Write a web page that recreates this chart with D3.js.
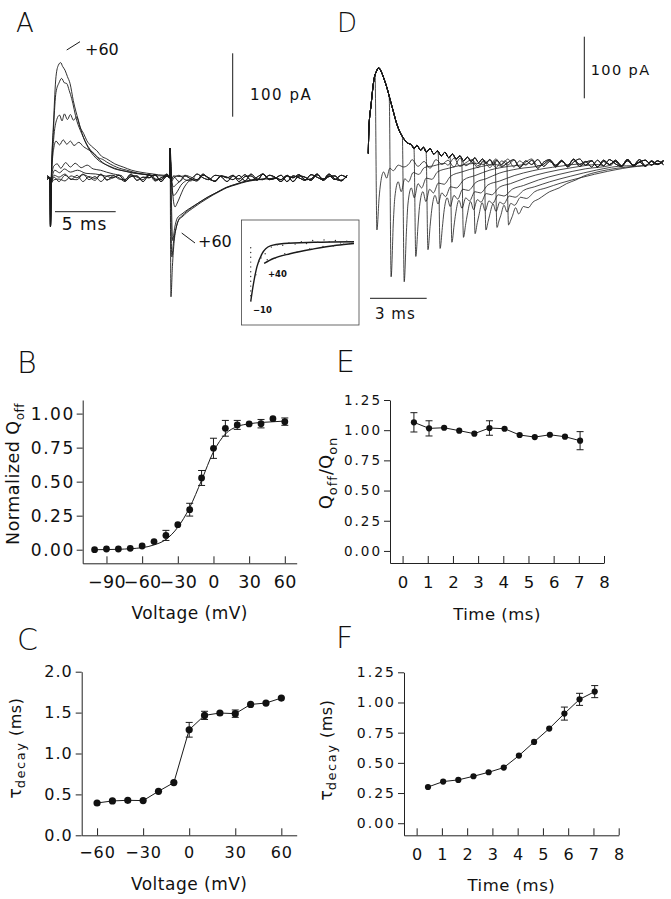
<!DOCTYPE html>
<html>
<head>
<meta charset="utf-8">
<script src="https://cdn.jsdelivr.net/npm/d3@7"></script>
<style>
  body { margin: 0; background: #fff; }
  text { font-family: "DejaVu Sans", sans-serif; fill: #111; }
</style>
</head>
<body>
<div id="fig"></div>
<script>
// ---------- data ----------

// panel B : normalized Q_off vs voltage
const bVolt = [-100,-90,-80,-70,-60,-50,-40,-30,-20,-10,0,10,20,30,40,50,60];
const bQoff = [0.00,0.005,0.005,0.01,0.027,0.06,0.105,0.184,0.294,0.527,0.745,0.892,0.917,0.924,0.926,0.963,0.941];
const bErr  = [0,0,0,0,0,0,0.037,0,0.047,0.055,0.074,0.058,0.033,0,0.031,0,0.027];
// fitted curve
const bFitVolt = [-100,-80,-60,-50,-40,-30,-20,-10,0,10,20,30,40,50,60];
const bFitQ    = [0.0,0.003,0.015,0.035,0.075,0.165,0.31,0.51,0.72,0.85,0.905,0.925,0.935,0.94,0.945];

// panel C : tau decay vs voltage
const cVolt = [-60,-50,-40,-30,-20,-10,0,10,20,30,40,50,60];
const cTau  = [0.395,0.42,0.428,0.424,0.538,0.644,1.29,1.466,1.495,1.487,1.60,1.617,1.678];
const cErr  = [0,0,0,0,0,0,0.09,0.05,0,0.045,0,0,0];

// panel E : Q_off/Q_on vs time
const eTime  = [0.45,1.05,1.65,2.25,2.85,3.45,4.05,4.65,5.25,5.85,6.45,7.05];
const eRatio = [1.065,1.015,1.02,0.996,0.971,1.018,1.012,0.96,0.943,0.962,0.946,0.913];
const eErr   = [0.08,0.063,0,0,0,0.06,0,0,0,0,0,0.075];

// panel F : tau decay vs time
const fTime = [0.45,1.05,1.65,2.25,2.85,3.45,4.05,4.65,5.25,5.85,6.45,7.05];
const fTau  = [0.30,0.345,0.359,0.389,0.422,0.461,0.56,0.673,0.784,0.908,1.026,1.09];
const fErr  = [0,0,0,0,0,0,0,0,0,0.054,0.05,0.05];

// panel A : gating current traces, [ms, pA]
const aOn = [
  [[0,0],[0.04,-77],[0.1,-10],[0.3,90],[0.5,160],[0.7,178],[0.89,182],[1.05,176],[1.25,170],[1.45,160],[1.67,149],[1.94,122],[2.36,91],[2.78,64],[3.33,43],[3.89,30],[4.72,20],[5.4,14],[6.1,11],[6.8,8],[7.5,6],[8.6,3]],
  [[0,0],[0.04,-77],[0.1,-10],[0.3,80],[0.5,135],[0.75,150],[0.97,157],[1.2,150],[1.39,149],[1.6,138],[1.81,125],[2.22,91],[2.64,70],[3.19,49],[3.89,33],[4.4,24],[5.0,18],[5.7,13],[6.39,10],[7.2,7],[8.06,5]],
  [[0,0],[0.04,-77],[0.1,-10],[0.3,60],[0.56,92],[0.8,99],[1.0,90],[1.2,101],[1.45,92],[1.7,100],[1.95,91],[2.22,96],[2.5,80],[2.8,70],[3.06,59],[3.45,50],[3.89,43],[4.3,34],[4.72,30],[5.4,22],[6.1,17],[6.8,12],[7.5,9],[8.6,6],[9.5,4]],
  [[0,0],[0.04,-77],[0.1,-10],[0.3,45],[0.5,58],[0.8,52],[1.1,60],[1.4,53],[1.7,58],[2.0,51],[2.4,56],[2.8,49],[3.33,43],[3.7,38],[4.0,32],[4.4,29],[4.72,25],[5.3,19],[5.8,15],[6.4,12],[6.94,9],[7.7,6],[8.5,4],[9.4,3]],
  [[0,0],[0.04,-77],[0.1,-10],[0.3,18],[0.6,22],[0.9,15],[1.3,24],[1.7,17],[2.1,23],[2.6,16],[3.1,20],[3.6,14],[4.2,12],[4.7,9],[5.3,6],[6.0,3]],
  [[0,0],[0.04,-77],[0.1,-10],[0.4,12],[0.8,8],[1.2,14],[1.7,9],[2.3,12],[3.0,7],[3.8,6],[4.8,2]],
  [[0,0],[0.04,-77],[0.1,-10],[0.35,4]],
  [[0,0],[0.04,-77],[0.1,-10],[0.35,-3]],
  [[0,0],[0.04,-77],[0.1,-10],[0.35,1]]
];
const aOff = [
  [[9.98,0],[10.0,47],[10.08,-188],[10.2,-140],[10.35,-100],[10.55,-76],[10.75,-66],[11.0,-62],[11.4,-55],[11.9,-48],[12.5,-40],[13.0,-34],[13.6,-27],[14.2,-21],[14.7,-16],[15.5,-11],[16.4,-6],[17.4,-3],[18.5,-1]],
  [[9.98,0],[10.0,47],[10.15,-125],[10.3,-100],[10.5,-80],[10.75,-65],[11.0,-60],[11.4,-53],[11.9,-46],[12.5,-38],[13.0,-32],[13.6,-26],[14.2,-20],[14.7,-15],[15.5,-10],[16.4,-5],[17.4,-2]],
  [[9.98,0],[10.0,47],[10.22,-99],[10.4,-78],[10.6,-64],[11.0,-57],[11.5,-50],[12.0,-44],[12.6,-37],[13.2,-30],[13.8,-24],[14.5,-17],[15.2,-12],[16,-7],[17,-3],[18,-1]],
  [[9.98,0],[10.0,47],[10.14,1],[10.25,-30],[10.42,-46],[10.6,-40],[10.83,-30],[11.1,-18],[11.4,-9],[11.94,-2]],
  [[9.98,0],[10.0,47],[10.1,-5],[10.3,-28],[10.6,-22],[10.9,-12],[11.3,-5],[11.8,-1]],
  [[9.98,0],[10.0,47],[10.1,-3],[10.3,-14],[10.6,-9],[11.0,-3]],
  [[9.98,0],[10.0,47],[10.1,-4],[10.3,2]],
  [[9.98,0],[10.0,47],[10.1,-6],[10.3,-1]],
  [[9.98,0],[10.0,47],[10.1,-2],[10.3,3]]
];
// baseline noise of A, pA, one value every 0.5 ms from -0.25 ms
const aNoise = [
  [3,-5,1,6,-3,4,-6,2,-1,5,-4,3,0,-6,4,1,-3,6,-5,0,3,-2,-6,4,1,-3,6,-2,-5,3,0,4,-6,2,3,-4,6,-2,0,-3,4,-6,3,1,-4,5,-2,3,-3,4,0],
  [-3,4,-2,-5,3,0,6,-3,2,-6,3,4,-2,-3,6,-4,1,0,5,-6,3,-2,4,-3,-5,6,0,-3,4,2,-6,3,-2,5,-4,1,6,-3,-1,4,-6,3,0,-4,5,1,-3,6,-2,-4,3],
  [0,3,-6,4,-2,-3,5,1,-4,6,-3,0,4,-5,2,3,-6,4,-2,-3,6,-4,2,3,-2,-5,4,0,-6,3,1,-3,4,-5,6,-2,-3,4,1,-6,3,0,5,-3,-2,6,-4,2,3,-5,4]
];

// panel D : envelope before the pulse ends, [ms, pA]
const dEnv = [[0,16],[0.03,55],[0.15,95],[0.3,135],[0.45,150],[0.55,155],[0.7,148],[0.85,136],[1.0,122],[1.16,104],[1.33,85],[1.51,65],[1.7,50],[1.87,41],[2.1,33],[2.3,30],[2.45,24],[2.6,29],[2.8,21],[2.95,26],[3.1,18],[3.3,24],[3.5,15],[3.7,20],[3.9,12],[4.1,18],[4.3,9],[4.5,15],[4.7,7],[4.9,12],[5.1,4],[5.3,10],[5.5,3],[5.7,9],[5.9,1],[6.1,7],[6.3,0],[6.5,6],[6.7,-2],[6.9,5],[7.1,-3],[7.3,4],[7.5,-2],[7.7,3]];
const dEnd = [0.36,1.12,1.82,2.44,3.09,3.74,4.37,4.99,5.61,6.19,6.78,7.40];
const dOff = [
  [[0.36,145],[0.46,-108],[0.58,-55],[0.66,-32],[0.82,-14],[0.98,-24],[1.15,-8],[1.34,-12],[1.6,-3],[1.9,-6],[2.2,0]],
  [[1.12,106],[1.22,-184],[1.34,-95],[1.42,-55],[1.6,-30],[1.76,-46],[1.95,-25],[2.15,-30],[2.4,-15],[2.7,-18],[3.0,-7],[3.5,-4],[4.1,0]],
  [[1.82,44],[1.92,-192],[2.04,-110],[2.12,-66],[2.3,-40],[2.46,-56],[2.66,-33],[2.85,-40],[3.1,-24],[3.4,-26],[3.7,-14],[4.3,-8],[5.0,-3],[5.8,0]],
  [[2.44,26],[2.54,-151],[2.66,-100],[2.74,-70],[2.92,-46],[3.08,-62],[3.28,-42],[3.48,-48],[3.75,-32],[4.05,-34],[4.4,-21],[5.0,-14],[5.8,-7],[6.8,-2]],
  [[3.09,19],[3.19,-140],[3.31,-100],[3.39,-76],[3.57,-52],[3.73,-66],[3.93,-48],[4.13,-54],[4.4,-38],[4.7,-40],[5.1,-27],[5.7,-20],[6.5,-11],[7.5,-5],[8.5,-1]],
  [[3.74,15],[3.84,-138],[3.96,-104],[4.04,-80],[4.22,-56],[4.38,-70],[4.58,-52],[4.78,-58],[5.05,-42],[5.35,-44],[5.75,-31],[6.3,-25],[7.0,-16],[8.0,-9],[9.3,-3]],
  [[4.37,11],[4.47,-128],[4.59,-100],[4.67,-82],[4.85,-60],[5.01,-73],[5.21,-56],[5.41,-61],[5.7,-46],[6.0,-48],[6.4,-35],[7.0,-29],[7.8,-20],[8.8,-12],[10.2,-5],[11.5,-1]],
  [[4.99,8],[5.09,-120],[5.21,-98],[5.29,-84],[5.47,-62],[5.63,-75],[5.83,-59],[6.03,-63],[6.3,-49],[6.6,-51],[7.0,-39],[7.6,-33],[8.4,-24],[9.5,-15],[10.9,-7],[12.3,-2]],
  [[5.61,6],[5.71,-114],[5.83,-96],[5.91,-85],[6.09,-64],[6.25,-77],[6.45,-61],[6.65,-65],[6.95,-51],[7.25,-53],[7.7,-42],[8.3,-36],[9.1,-27],[10.2,-18],[11.6,-9],[13.0,-3]],
  [[6.19,4],[6.29,-108],[6.41,-94],[6.49,-84],[6.67,-66],[6.83,-78],[7.03,-63],[7.23,-66],[7.55,-53],[7.85,-55],[8.3,-44],[8.9,-38],[9.7,-30],[10.8,-21],[12.2,-11],[13.8,-4]],
  [[6.78,3],[6.88,-104],[7.0,-92],[7.08,-85],[7.26,-68],[7.42,-79],[7.62,-65],[7.82,-68],[8.15,-55],[8.45,-57],[8.9,-46],[9.5,-40],[10.3,-32],[11.4,-23],[12.8,-13],[14.4,-5]],
  [[7.40,2],[7.5,-100],[7.62,-92],[7.7,-86],[7.88,-72],[8.04,-82],[8.3,-70],[8.55,-72],[8.8,-63],[9.1,-58],[9.7,-46],[10.2,-40],[10.6,-33],[11.1,-27],[11.5,-21],[12.4,-13],[13.3,-8],[14.2,-5],[15.2,-2]]
];
// baseline noise of D, pA, one value every 0.32 ms from 0.1 ms
const dNoise = [
  [4,-6,7,-3,5,-7,2,6,-5,3,-8,6,-2,5,-6,8,-4,2,-7,5,-3,7,-5,1,6,-7,4,-2,6,-5,3,-4,5,-6,2,7,-3,4,-6,5,-2,3,-5,6,-4,2,5,-3,4,-2],
  [-5,7,-2,6,-8,3,-4,7,-6,2,5,-7,4,-3,8,-5,1,6,-4,3,-7,5,-2,7,-6,4,-3,5,-8,2,6,-3,4,-5,7,-2,3,-6,5,-4,6,-1,-5,4,-3,6,-4,3,-2,5],
  [3,-4,6,-7,2,5,-6,4,-2,7,-5,3,-6,6,-1,-4,7,-5,3,-2,6,-7,4,-3,5,-6,2,7,-4,-1,5,-6,3,-3,6,-5,2,4,-6,3,-2,5,-4,6,-3,2,-5,4,-1,3]
];

// inset of A, normalized time course
const insetT     = [0,0.27,0.6,1.1,1.9,3.2,6.1,10];
const insetFast  = [-1,-0.7,-0.42,-0.2,-0.07,-0.03,-0.01,0];
const insetSlowT = [1.3,2.2,3.8,6.1,8.3,10];
const insetSlow  = [-0.36,-0.28,-0.2,-0.12,-0.06,-0.03];
const insetDotT = [0,0,0,0,0,0,0,0,0,0,0,0.5,0.8,1.0,1.4,2.0,2.6,3.1,3.7,4.3,4.9,5.4,6.0,6.5,7.1,7.6,8.2,8.7,9.3,9.8,1.6,2.4,3.3,4.5,5.7,7.0,8.0,9.0,9.6];
const insetDotV = [-0.1,-0.18,-0.26,-0.34,-0.42,-0.5,-0.58,-0.66,-0.74,-0.82,-0.9,-0.55,-0.33,-0.27,-0.2,-0.09,-0.05,-0.06,-0.02,-0.04,0.0,-0.03,0.02,-0.01,0.03,0.0,0.02,-0.02,0.01,0.0,-0.3,-0.27,-0.2,-0.17,-0.12,-0.08,-0.07,-0.04,-0.03];

// ---------- drawing ----------
const svg = d3.select("#fig").append("svg")
  .attr("width", 671).attr("height", 899);

const ink = "#1a1a1a";

function label(txt, x, y, size, opts = {}) {
  return svg.append("text").attr("x", x).attr("y", y)
    .attr("font-size", size)
    .attr("font-weight", opts.weight || null)
    .attr("text-anchor", opts.anchor || "start")
    .style("letter-spacing", (opts.ls || 0) + "px")
    .style("white-space", "pre")
    .text(txt);
}
function seg(x1, y1, x2, y2, w) {
  svg.append("line").attr("x1", x1).attr("y1", y1).attr("x2", x2).attr("y2", y2)
    .attr("stroke", ink).attr("stroke-width", w || 1);
}

// panel letters
label("A", 16, 32, 26, {weight: 200});
label("D", 337, 32, 26, {weight: 200});
label("B", 17, 373, 30, {weight: 200});
label("C", 17, 650, 30, {weight: 200});
label("E", 336, 372, 30, {weight: 200});
label("F", 336, 648, 30, {weight: 200});

/* panel A traces */
const aX = d3.scaleLinear().domain([0, 10]).range([50, 170]);
const aY = d3.scaleLinear().domain([0, 100]).range([177.8, 114.5]);
const A_T0 = -0.25, A_STEP = 0.5;

function assembleA(on, off, noise) {
  const onHi = on[on.length - 1][0], offLo = off[0][0], offHi = off[off.length - 1][0];
  const fill = noise.map((v, i) => [A_T0 + i * A_STEP, v])
    .filter(([t]) => t < on[0][0] || (t > onHi + 0.1 && t < offLo - 0.1) || t > offHi + 0.1);
  return fill.concat(on, off).sort((a, b) => a[0] - b[0]);
}
const traceLineA = d3.line().x(d => aX(d[0])).y(d => aY(d[1])).curve(d3.curveMonotoneX);
aOn.forEach((on, i) => {
  svg.append("path").datum(assembleA(on, aOff[i], aNoise[i % 3]))
    .attr("d", traceLineA).attr("fill", "none")
    .attr("stroke", ink).attr("stroke-width", 0.9);
});

// A annotations and scale bars
seg(66.7, 50, 80, 41.7, 1);
label("+60", 85, 55, 16);
seg(181.7, 233, 195, 243, 1);
label("+60", 198, 247, 16);
seg(232.7, 53.3, 232.7, 116.7, 1);
label("100 pA", 250, 100, 15, {ls: 1.5});
seg(55, 211.7, 115.7, 211.7, 1);
label("5 ms", 61.7, 230, 17, {ls: 1});

// inset
svg.append("rect").attr("x", 241.5).attr("y", 220).attr("width", 117.5).attr("height", 105)
  .attr("fill", "#fff").attr("stroke", "#444").attr("stroke-width", 0.8);
const iX = d3.scaleLinear().domain([0, 10]).range([250.7, 354]);
const iY = d3.scaleLinear().domain([-1, 0]).range([301.7, 241.7]);
const insetLine = d3.line().x(d => iX(d[0])).y(d => iY(d[1])).curve(d3.curveMonotoneX);
svg.append("path").datum(insetT.map((t, i) => [t, insetFast[i]]))
  .attr("d", insetLine).attr("fill", "none").attr("stroke", ink).attr("stroke-width", 1.4);
svg.append("path").datum(insetSlowT.map((t, i) => [t, insetSlow[i]]))
  .attr("d", insetLine).attr("fill", "none").attr("stroke", ink).attr("stroke-width", 1.4);
svg.selectAll(".idot").data(insetDotT).enter().append("circle")
  .attr("cx", (t, i) => iX(t)).attr("cy", (t, i) => iY(insetDotV[i]))
  .attr("r", 0.7).attr("fill", "#333");
label("+40", 268, 277, 8.5, {weight: "bold"});
label("\u221210", 253, 313, 8.5, {weight: "bold"});

/* panel D traces */
const dX = d3.scaleLinear().domain([0, 3]).range([368.3, 424.4]);
const dY = d3.scaleLinear().domain([0, 100]).range([163.3, 101.6]);
const D_T0 = 0.1, D_STEP = 0.32, D_TMAX = 15.8;

function assembleD(k) {
  const off = dOff[k], last = off[off.length - 1][0];
  const env = dEnv.filter(([t]) => t < dEnd[k] - 0.02);
  const fill = dNoise[k % 3].map((v, i) => [D_T0 + i * D_STEP, v])
    .filter(([t]) => t > last + 0.1 && t <= D_TMAX);
  return env.concat(off, fill);
}
const traceLineD = d3.line().x(d => dX(d[0])).y(d => dY(d[1])).curve(d3.curveMonotoneX);
dEnd.forEach((t, k) => {
  svg.append("path").datum(assembleD(k))
    .attr("d", traceLineD).attr("fill", "none")
    .attr("stroke", ink).attr("stroke-width", 0.8);
});
seg(584.3, 36.7, 584.3, 98.3, 1);
label("100 pA", 590.7, 75, 14.5, {ls: 1.4});
seg(370, 298.3, 426.7, 298.3, 1);
label("3 ms", 375, 319, 15, {ls: 1});

/* summary plots */
function drawPanel(p) {
  const x = d3.scaleLinear().domain(p.xDomain).range(p.xRange);
  const y = d3.scaleLinear().domain(p.yDomain).range(p.yRange);
  const g = svg.append("g");

  const ya = g.append("g").attr("transform", `translate(${p.xRange[0]},0)`)
    .call(d3.axisLeft(y).tickValues(p.yTicks).tickFormat(d3.format(p.yFormat))
      .tickSizeInner(6).tickSizeOuter(0).tickPadding(p.yPad));
  ya.attr("font-family", null).attr("font-size", p.yFont);
  ya.selectAll("text").style("letter-spacing", p.yLs + "px");

  const xa = g.append("g").attr("transform", `translate(0,${p.yRange[0]})`)
    .call(d3.axisBottom(x).tickValues(p.xTicks).tickFormat(d3.format("d"))
      .tickSizeInner(-7).tickSizeOuter(0));
  xa.attr("font-family", null).attr("font-size", p.xFont);
  xa.selectAll("text").attr("y", p.xLabDy).attr("dy", 0).style("letter-spacing", p.xLs + "px");
  g.selectAll(".domain, .tick line").attr("stroke", "#222").attr("stroke-width", 1);

  const pts = p.xs.map((v, i) => ({x: v, y: p.ys[i], e: p.errs[i]}));

  if (p.fit) {
    g.append("path").datum(p.fit)
      .attr("d", d3.line().x(d => x(d[0])).y(d => y(d[1])).curve(d3.curveMonotoneX))
      .attr("fill", "none").attr("stroke", ink).attr("stroke-width", 1);
  } else {
    g.append("path").datum(pts)
      .attr("d", d3.line().x(d => x(d.x)).y(d => y(d.y)))
      .attr("fill", "none").attr("stroke", ink).attr("stroke-width", 1);
  }

  const eb = g.selectAll(".err").data(pts.filter(d => d.e > 0)).enter().append("g");
  eb.append("line").attr("x1", d => x(d.x)).attr("x2", d => x(d.x))
    .attr("y1", d => y(d.y - d.e)).attr("y2", d => y(d.y + d.e));
  eb.append("line").attr("x1", d => x(d.x) - 3.5).attr("x2", d => x(d.x) + 3.5)
    .attr("y1", d => y(d.y + d.e)).attr("y2", d => y(d.y + d.e));
  eb.append("line").attr("x1", d => x(d.x) - 3.5).attr("x2", d => x(d.x) + 3.5)
    .attr("y1", d => y(d.y - d.e)).attr("y2", d => y(d.y - d.e));
  eb.selectAll("line").attr("stroke", ink).attr("stroke-width", 1);

  g.selectAll(".dot").data(pts).enter().append("circle")
    .attr("cx", d => x(d.x)).attr("cy", d => y(d.y)).attr("r", p.r).attr("fill", "#111");

  g.append("text").attr("x", (p.xRange[0] + p.xRange[1]) / 2).attr("y", p.xTitleY)
    .attr("text-anchor", "middle").attr("font-size", p.titleFont)
    .style("letter-spacing", "0.5px").text(p.xTitle);
  return g;
}

drawPanel({
  xDomain: [-110, 70], xRange: [82.7, 296.7], yDomain: [-0.1, 1.1], yRange: [563.3, 400],
  xTicks: [-90, -60, -30, 0, 30, 60], yTicks: [0, 0.25, 0.5, 0.75, 1], yFormat: ".2f",
  yFont: 17, yLs: 1.5, yPad: 2, xFont: 17.5, xLs: 0.3, xLabDy: 25,
  xs: bVolt, ys: bQoff, errs: bErr, r: 3.4,
  fit: bFitVolt.map((v, i) => [v, bFitQ[i]]),
  xTitle: "Voltage (mV)", xTitleY: 619.3, titleFont: 17
});
drawPanel({
  xDomain: [-70, 70], xRange: [81.7, 296.7], yDomain: [0, 2], yRange: [835.3, 671.7],
  xTicks: [-60, -30, 0, 30, 60], yTicks: [0, 0.5, 1, 1.5, 2], yFormat: ".1f",
  yFont: 16, yLs: 1, yPad: 3, xFont: 16, xLs: 1, xLabDy: 22.7,
  xs: cVolt, ys: cTau, errs: cErr, r: 3.6,
  xTitle: "Voltage (mV)", xTitleY: 890, titleFont: 17
});
drawPanel({
  xDomain: [-0.5, 8], xRange: [390, 604], yDomain: [-0.1, 1.25], yRange: [563, 400],
  xTicks: [0, 1, 2, 3, 4, 5, 6, 7, 8], yTicks: [0, 0.25, 0.5, 0.75, 1, 1.25], yFormat: ".2f",
  yFont: 13.5, yLs: 2, yPad: 2, xFont: 16.5, xLs: 0, xLabDy: 25,
  xs: eTime, ys: eRatio, errs: eErr, r: 3.1,
  xTitle: "Time (ms)", xTitleY: 620, titleFont: 16.5
});
drawPanel({
  xDomain: [-0.5, 8], xRange: [404, 618.7], yDomain: [-0.1, 1.25], yRange: [835.3, 672.3],
  xTicks: [0, 1, 2, 3, 4, 5, 6, 7, 8], yTicks: [0, 0.25, 0.5, 0.75, 1, 1.25], yFormat: ".2f",
  yFont: 14, yLs: 2, yPad: 2, xFont: 16, xLs: 0, xLabDy: 24.7,
  xs: fTime, ys: fTau, errs: fErr, r: 3.1,
  xTitle: "Time (ms)", xTitleY: 891, titleFont: 16.5
});

// rotated y titles with subscripts
function yTitle(x, y, parts) {
  const t = svg.append("text").attr("transform", `translate(${x},${y}) rotate(-90)`)
    .attr("text-anchor", "middle");
  parts.forEach(pt => {
    t.append("tspan").attr("font-size", pt.size).attr("dy", pt.dy || 0)
      .style("letter-spacing", (pt.ls || 0) + "px").style("white-space", "pre").text(pt.t);
  });
}
yTitle(18.5, 474, [{t: "Normalized Q", size: 17.5, ls: 0.5}, {t: "off", size: 12, dy: 5, ls: 0.5}]);
yTitle(332, 473, [{t: "Q", size: 18}, {t: "off", size: 13, dy: 5, ls: 1}, {t: "/Q", size: 18, dy: -5}, {t: "on", size: 13, dy: 5, ls: 1}]);
yTitle(20.5, 748, [{t: "\u03c4", size: 17}, {t: "decay", size: 13, dy: 4, ls: 1.5}, {t: " (ms)", size: 16, dy: -4, ls: 0.5}]);
yTitle(332, 750, [{t: "\u03c4", size: 17}, {t: "decay", size: 13, dy: 4, ls: 1.5}, {t: " (ms)", size: 16, dy: -4, ls: 0.5}]);
</script>
</body>
</html>
